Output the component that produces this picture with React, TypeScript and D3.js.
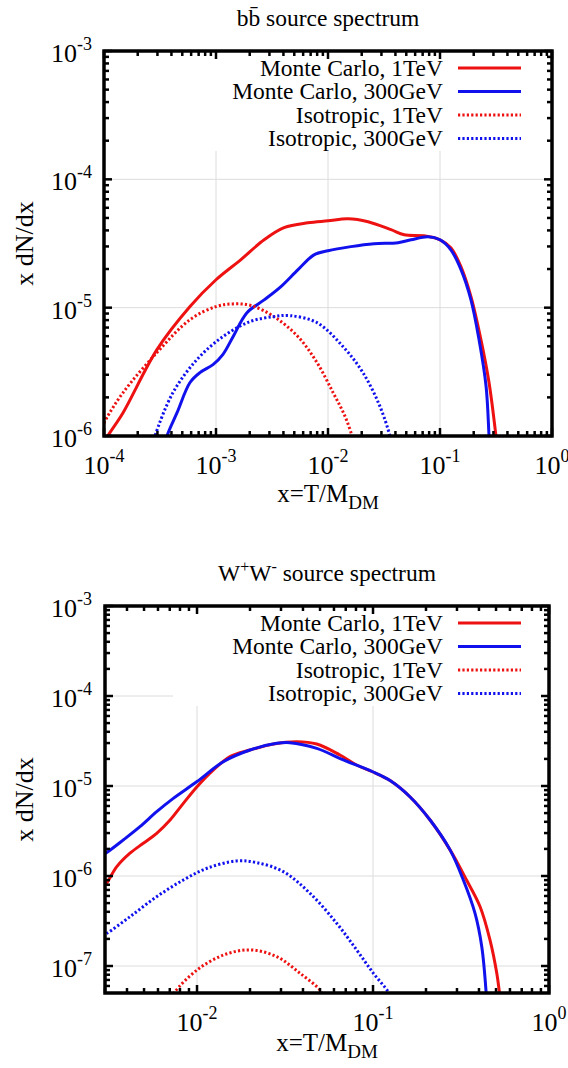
import React from "react";
import * as d3 from "d3";

type Pt = [number, number];

// ---------- b b-bar panel data ----------
const bbMonteCarlo1TeV: Pt[] = [
  [1.0e-4, 8.8e-7], [1.08e-4, 1.0e-6], [1.48e-4, 1.52e-6], [2.97e-4, 4.71e-6], [5.86e-4, 1.02e-5],
  [1.0e-3, 1.65e-5], [1.67e-3, 2.37e-5], [2.69e-3, 3.38e-5], [4.05e-3, 4.2e-5],
  [6.61e-3, 4.58e-5], [1.0e-2, 4.75e-5], [1.51e-2, 4.93e-5], [2.28e-2, 4.67e-5],
  [3.65e-2, 4.05e-5], [4.79e-2, 3.7e-5], [7.19e-2, 3.63e-5], [0.1, 3.38e-5],
  [0.125, 2.93e-5], [0.154, 2.08e-5], [0.189, 1.22e-5], [0.232, 5.64e-6],
  [0.274, 2.61e-6], [0.316, 1.0e-6], [0.33, 7e-7],
];
const bbMonteCarlo300GeV: Pt[] = [
  [3.4e-4, 7.5e-7], [3.65e-4, 1.0e-6], [4.49e-4, 1.52e-6], [5.86e-4, 2.61e-6], [7.19e-4, 3.12e-6],
  [9.4e-4, 3.6e-6], [1.15e-3, 4.31e-6], [1.42e-3, 5.94e-6], [1.89e-3, 9.14e-6],
  [2.69e-3, 1.15e-5], [3.8e-3, 1.46e-5], [5.4e-3, 1.98e-5], [7.5e-3, 2.58e-5],
  [1.0e-2, 2.78e-5], [1.6e-2, 2.99e-5], [2.57e-2, 3.15e-5], [4.22e-2, 3.21e-5],
  [5.51e-2, 3.38e-5], [7.82e-2, 3.57e-5], [0.1, 3.38e-5], [0.125, 2.82e-5],
  [0.154, 1.98e-5], [0.189, 1.15e-5], [0.223, 5.64e-6], [0.258, 2.43e-6],
  [0.274, 1.0e-6], [0.28, 7e-7],
];
const bbIsotropic1TeV: Pt[] = [
  [1.0e-4, 1.26e-6], [1.06e-4, 1.39e-6], [1.48e-4, 2.18e-6], [2.97e-4, 4.47e-6], [5.86e-4, 8.07e-6],
  [1.0e-3, 1.02e-5], [1.42e-3, 1.07e-5], [2.05e-3, 1.04e-5], [3.3e-3, 8.51e-6],
  [5.4e-3, 5.94e-6], [7.98e-3, 3.73e-6], [1.11e-2, 2.18e-6], [1.42e-2, 1.42e-6],
  [1.64e-2, 1.0e-6], [1.75e-2, 8e-7],
];
const bbIsotropic300GeV: Pt[] = [
  [2.6e-4, 7.5e-7], [2.85e-4, 1.0e-6], [4.13e-4, 2.18e-6], [6.76e-4, 3.94e-6], [1.15e-3, 5.94e-6],
  [2.01e-3, 7.78e-6], [3.24e-3, 8.51e-6], [4.58e-3, 8.67e-6], [7.98e-3, 7.64e-6],
  [1.36e-2, 4.98e-6], [2.05e-2, 3.12e-6], [2.91e-2, 1.7e-6], [3.58e-2, 1.0e-6],
  [3.8e-2, 8e-7],
];

// ---------- W+W- panel data ----------
const wwMonteCarlo1TeV: Pt[] = [
  [2.9e-3, 7.6e-7], [3.07e-3, 8.43e-7], [3.5e-3, 1.27e-6], [4.16e-3, 1.79e-6], [4.95e-3, 2.31e-6],
  [5.9e-3, 2.98e-6], [7.03e-3, 4.19e-6], [8.36e-3, 6.41e-6], [1.0e-2, 9.82e-6],
  [1.24e-2, 1.51e-5], [1.54e-2, 2.12e-5], [2.0e-2, 2.51e-5], [2.72e-2, 2.93e-5],
  [3.68e-2, 3.11e-5], [4.79e-2, 2.93e-5], [6.49e-2, 2.21e-5], [8.07e-2, 1.71e-5],
  [0.0995, 1.44e-5], [0.125, 1.15e-5], [0.162, 7.6e-6], [0.211, 4.19e-6],
  [0.274, 1.95e-6], [0.34, 9.03e-7], [0.406, 4.56e-7], [0.462, 1.95e-7],
  [0.505, 8.3e-8], [0.522, 5.18e-8], [0.53, 4e-8],
];
const wwMonteCarlo300GeV: Pt[] = [
  [2.9e-3, 1.7e-6], [3.07e-3, 1.82e-6], [3.81e-3, 2.51e-6], [4.74e-3, 3.53e-6], [5.9e-3, 5.18e-6],
  [7.33e-3, 7.29e-6], [1.0e-2, 1.12e-5], [1.41e-2, 1.86e-5], [2.0e-2, 2.51e-5],
  [2.84e-2, 2.98e-5], [3.37e-2, 3.03e-5], [4.79e-2, 2.62e-5], [6.78e-2, 1.95e-5],
  [0.0995, 1.44e-5], [0.125, 1.15e-5], [0.162, 7.6e-6], [0.211, 4.19e-6],
  [0.274, 1.95e-6], [0.326, 9.03e-7], [0.38, 3.85e-7], [0.415, 1.64e-7],
  [0.439, 5.18e-8], [0.442, 4e-8],
];
const wwIsotropic1TeV: Pt[] = [
  [7.2e-3, 4.4e-8], [7.5e-3, 5.18e-8], [1.0e-2, 9.03e-8], [1.41e-2, 1.32e-7], [2.0e-2, 1.51e-7],
  [2.84e-2, 1.27e-7], [3.85e-2, 8.3e-8], [5.0e-2, 5.41e-8], [5.2e-2, 4.6e-8],
];
const wwIsotropic300GeV: Pt[] = [
  [2.9e-3, 2.2e-7], [3.07e-3, 2.31e-7], [4.16e-3, 3.53e-7], [5.9e-3, 5.89e-7], [8.36e-3, 9.03e-7],
  [1.14e-2, 1.22e-6], [1.68e-2, 1.47e-6], [2.18e-2, 1.41e-6], [3.09e-2, 1.12e-6],
  [4.39e-2, 6.41e-7], [6.22e-2, 2.98e-7], [8.07e-2, 1.51e-7], [0.1005, 8.3e-8],
  [0.122, 5.18e-8], [0.127, 4.4e-8],
];

// ---------- labels / ticks ----------
const legendLabels = ["Monte Carlo, 1TeV", "Monte Carlo, 300GeV", "Isotropic, 1TeV", "Isotropic, 300GeV"];
const seriesColors = ["#ee1111", "#1111ee", "#ee1111", "#1111ee"];
const seriesDotted = [false, false, true, true];

const bbXExponents = [-4, -3, -2, -1, 0];
const bbYExponents = [-6, -5, -4, -3];
const wwXExponents = [-2, -1, 0];
const wwYExponents = [-7, -6, -5, -4, -3];

const FONT = "'Liberation Serif', 'DejaVu Serif', serif";

type PanelCfg = {
  id: string;
  title: React.ReactNode;
  xDomain: [number, number];
  yDomain: [number, number];
  xRange: [number, number];
  yRange: [number, number];
  xExps: number[];
  yExps: number[];
  series: Pt[][];
  xLabelOffset: number;
  titleOffset: number;
};

function minorTicks(domain: [number, number]): { v: number; major: boolean }[] {
  const out: { v: number; major: boolean }[] = [];
  const lo = Math.floor(Math.log10(domain[0]) - 1e-9);
  const hi = Math.ceil(Math.log10(domain[1]) + 1e-9);
  for (let e = lo; e <= hi; e++) {
    for (let m = 1; m <= 9; m++) {
      const v = m * Math.pow(10, e);
      if (v >= domain[0] * 0.9999 && v <= domain[1] * 1.0001) out.push({ v, major: m === 1 });
    }
  }
  return out;
}

function Panel({ cfg }: { cfg: PanelCfg }) {
  const x = d3.scaleLog().domain(cfg.xDomain).range(cfg.xRange);
  const y = d3.scaleLog().domain(cfg.yDomain).range(cfg.yRange);
  const [L, R] = cfg.xRange;
  const [B, T] = cfg.yRange;
  const line = d3
    .line<Pt>()
    .x((d) => x(d[0]))
    .y((d) => y(d[1]))
    .curve(d3.curveCatmullRom.alpha(0.5));
  const xt = minorTicks(cfg.xDomain);
  const yt = minorTicks(cfg.yDomain);
  const majorLen = 8;
  const minorLen = 5;
  const cx = (L + R) / 2;
  const cy = (T + B) / 2;
  const legendRowY = (i: number) => T + 17 + i * 23.5;

  return (
    <g>
      <defs>
        <clipPath id={`clip-${cfg.id}`}>
          <rect x={L} y={T} width={R - L} height={B - T} />
        </clipPath>
      </defs>
      {/* grid */}
      {cfg.xExps.map((e) => (
        <line key={`gx${e}`} x1={x(Math.pow(10, e))} x2={x(Math.pow(10, e))} y1={T} y2={B} stroke="#dcdcdc" strokeWidth={1} />
      ))}
      {cfg.yExps.map((e) => (
        <line key={`gy${e}`} x1={L} x2={R} y1={y(Math.pow(10, e))} y2={y(Math.pow(10, e))} stroke="#dcdcdc" strokeWidth={1} />
      ))}
      {/* legend background */}
      <rect x={173} y={T} width={R - 173} height={100} fill="#ffffff" />
      {/* curves */}
      <g clipPath={`url(#clip-${cfg.id})`}>
        {cfg.series.map((s, i) => (
          <path
            key={i}
            d={line(s) || ""}
            fill="none"
            stroke={seriesColors[i]}
            strokeWidth={3}
            strokeDasharray={seriesDotted[i] ? "2.2 2.2" : undefined}
            strokeLinejoin="round"
          />
        ))}
      </g>
      {/* legend */}
      {legendLabels.map((lab, i) => (
        <g key={lab}>
          <text x={443} y={legendRowY(i) + 7.5} textAnchor="end" fontSize={23.5} fontFamily={FONT} fill="#000">
            {lab}
          </text>
          <line
            x1={458}
            x2={521}
            y1={legendRowY(i)}
            y2={legendRowY(i)}
            stroke={seriesColors[i]}
            strokeWidth={3}
            strokeDasharray={seriesDotted[i] ? "2.2 2.2" : undefined}
          />
        </g>
      ))}
      {/* ticks */}
      {xt.map((t, i) => {
        const px = x(t.v);
        const len = t.major ? majorLen : minorLen;
        return (
          <g key={`xt${i}`}>
            <line x1={px} x2={px} y1={B} y2={B - len} stroke="#000" strokeWidth={2.5} />
            <line x1={px} x2={px} y1={T} y2={T + len} stroke="#000" strokeWidth={2.5} />
          </g>
        );
      })}
      {yt.map((t, i) => {
        const py = y(t.v);
        const len = t.major ? majorLen : minorLen;
        return (
          <g key={`yt${i}`}>
            <line x1={L} x2={L + len} y1={py} y2={py} stroke="#000" strokeWidth={2.5} />
            <line x1={R} x2={R - len} y1={py} y2={py} stroke="#000" strokeWidth={2.5} />
          </g>
        );
      })}
      {/* frame */}
      <rect x={L} y={T} width={R - L} height={B - T} fill="none" stroke="#000" strokeWidth={3.5} />
      {/* tick labels */}
      {cfg.xExps.map((e) => (
        <text key={`xl${e}`} x={x(Math.pow(10, e))} y={B + 38} textAnchor="middle" fontSize={26} fontFamily={FONT} fill="#000">
          10<tspan dy={-12} fontSize={18}>{String(e)}</tspan>
        </text>
      ))}
      {cfg.yExps.map((e) => (
        <text key={`yl${e}`} x={92} y={y(Math.pow(10, e)) + 11} textAnchor="end" fontSize={26} fontFamily={FONT} fill="#000">
          10<tspan dy={-12} fontSize={18}>{String(e)}</tspan>
        </text>
      ))}
      {/* axis labels */}
      <text transform={`translate(33,${cy}) rotate(-90)`} textAnchor="middle" fontSize={26} fontFamily={FONT} fill="#000">
        x dN/dx
      </text>
      <text x={cx} y={B + cfg.xLabelOffset} textAnchor="middle" fontSize={25} fontFamily={FONT} fill="#000">
        x=T/M<tspan dy={7} fontSize={19}>DM</tspan>
      </text>
      {/* title */}
      <text x={cx} y={T - cfg.titleOffset} textAnchor="middle" fontSize={23.5} fontFamily={FONT} fill="#000">
        {cfg.title}
      </text>
    </g>
  );
}

const bbPanel: PanelCfg = {
  id: "bb",
  title: <>{"bb\u0304 source spectrum"}</>,
  xDomain: [1e-4, 1],
  yDomain: [1e-6, 1e-3],
  xRange: [104, 552],
  yRange: [436, 51],
  xExps: bbXExponents,
  yExps: bbYExponents,
  series: [bbMonteCarlo1TeV, bbMonteCarlo300GeV, bbIsotropic1TeV, bbIsotropic300GeV],
  xLabelOffset: 66,
  titleOffset: 25,
};

const wwPanel: PanelCfg = {
  id: "ww",
  title: (
    <>
      W<tspan dy={-9} fontSize={16}>+</tspan>
      <tspan dy={9}>W</tspan>
      <tspan dy={-9} fontSize={16}>-</tspan>
      <tspan dy={9}> source spectrum</tspan>
    </>
  ),
  xDomain: [3e-3, 1],
  yDomain: [Math.pow(10, -7.3), 1e-3],
  xRange: [105, 549],
  yRange: [993, 606],
  xExps: wwXExponents,
  yExps: wwYExponents,
  series: [wwMonteCarlo1TeV, wwMonteCarlo300GeV, wwIsotropic1TeV, wwIsotropic300GeV],
  xLabelOffset: 58,
  titleOffset: 25,
};

export default function App() {
  return (
    <svg
      width={568}
      height={1068}
      viewBox="0 0 568 1068"
      style={{ position: "absolute", left: 0, top: 0, background: "#fff" }}
    >
      <rect x={0} y={0} width={568} height={1068} fill="#fff" />
      <Panel cfg={bbPanel} />
      <Panel cfg={wwPanel} />
    </svg>
  );
}
